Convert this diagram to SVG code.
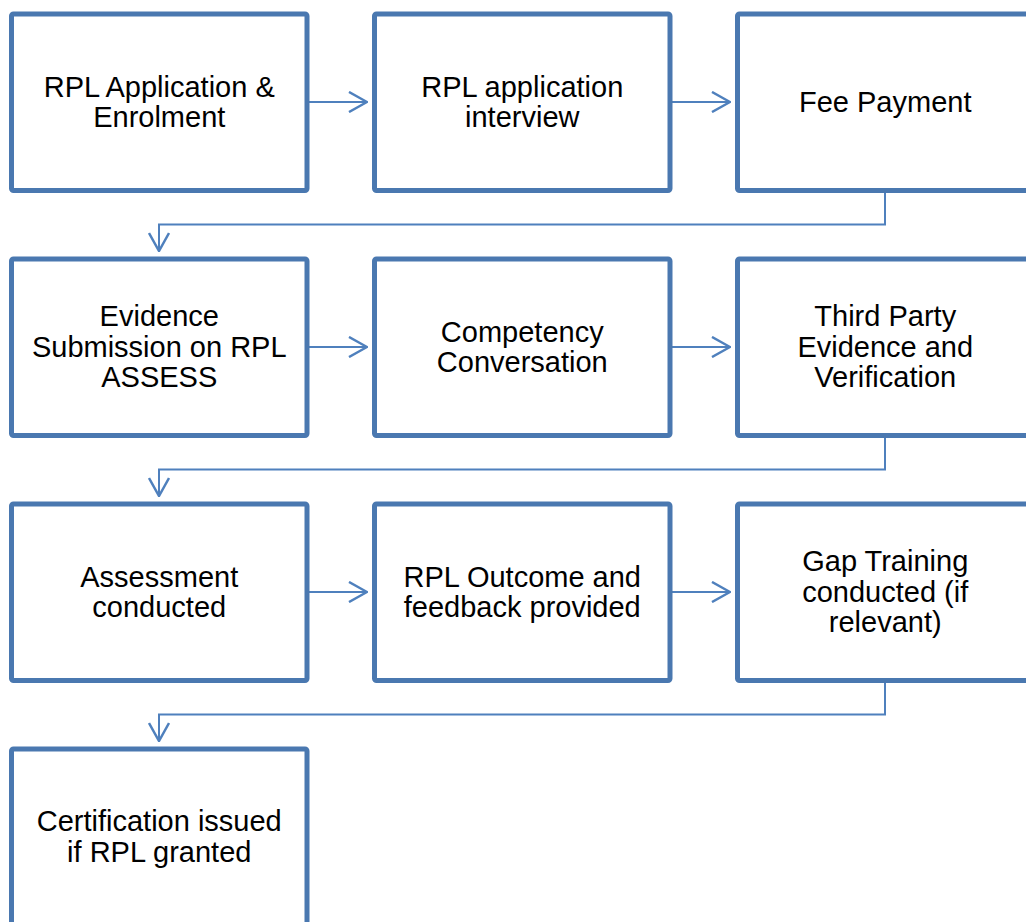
<svg xmlns="http://www.w3.org/2000/svg" width="1026" height="922" viewBox="0 0 1026 922">
<defs>
<style>
.box{fill:#ffffff;stroke:#4a78b0;stroke-width:5;}
.lbl{font-family:"Liberation Sans",Arial,sans-serif;font-size:29px;fill:#000000;text-anchor:middle;}
.con{fill:none;stroke:#4f80bd;stroke-width:2;}
</style>
<marker id="chev" viewBox="0 0 20 22" refX="19" refY="11" markerWidth="20" markerHeight="22" markerUnits="userSpaceOnUse" orient="auto">
<path d="M1,1 L19,11 L1,21" fill="none" stroke="#4f80bd" stroke-width="2.5"/>
</marker>
</defs>
<rect width="1026" height="922" fill="#ffffff"/>
<g id="connectors">
<path class="con" d="M309,102 H367" marker-end="url(#chev)"/>
<path class="con" d="M672,102 H730" marker-end="url(#chev)"/>
<path class="con" d="M885,193 V224.5 H159 V251" marker-end="url(#chev)"/>
<path class="con" d="M309,347 H367" marker-end="url(#chev)"/>
<path class="con" d="M672,347 H730" marker-end="url(#chev)"/>
<path class="con" d="M885,438 V469.5 H159 V496" marker-end="url(#chev)"/>
<path class="con" d="M309,592 H367" marker-end="url(#chev)"/>
<path class="con" d="M672,592 H730" marker-end="url(#chev)"/>
<path class="con" d="M885,683 V714.5 H159 V741" marker-end="url(#chev)"/>
</g>
<g id="n1"><rect class="box" x="11.5" y="14" width="295.5" height="176.5" rx="2"/>
<text class="lbl" x="159.25" y="97">RPL Application &amp;</text><text class="lbl" x="159.25" y="127">Enrolment</text></g>
<g id="n2"><rect class="box" x="374.5" y="14" width="295.5" height="176.5" rx="2"/>
<text class="lbl" x="522.25" y="97">RPL application</text><text class="lbl" x="522.25" y="127">interview</text></g>
<g id="n3"><rect class="box" x="737.5" y="14" width="295.5" height="176.5" rx="2"/>
<text class="lbl" x="885.25" y="112">Fee Payment</text></g>
<g id="n4"><rect class="box" x="11.5" y="259" width="295.5" height="176.5" rx="2"/>
<text class="lbl" x="159.25" y="326">Evidence</text><text class="lbl" x="159.25" y="356.5">Submission on RPL</text><text class="lbl" x="159.25" y="387">ASSESS</text></g>
<g id="n5"><rect class="box" x="374.5" y="259" width="295.5" height="176.5" rx="2"/>
<text class="lbl" x="522.25" y="342">Competency</text><text class="lbl" x="522.25" y="372">Conversation</text></g>
<g id="n6"><rect class="box" x="737.5" y="259" width="295.5" height="176.5" rx="2"/>
<text class="lbl" x="885.25" y="326">Third Party</text><text class="lbl" x="885.25" y="356.5">Evidence and</text><text class="lbl" x="885.25" y="387">Verification</text></g>
<g id="n7"><rect class="box" x="11.5" y="504" width="295.5" height="176.5" rx="2"/>
<text class="lbl" x="159.25" y="587">Assessment</text><text class="lbl" x="159.25" y="617">conducted</text></g>
<g id="n8"><rect class="box" x="374.5" y="504" width="295.5" height="176.5" rx="2"/>
<text class="lbl" x="522.25" y="587">RPL Outcome and</text><text class="lbl" x="522.25" y="617">feedback provided</text></g>
<g id="n9"><rect class="box" x="737.5" y="504" width="295.5" height="176.5" rx="2"/>
<text class="lbl" x="885.25" y="571">Gap Training</text><text class="lbl" x="885.25" y="601.5">conducted (if</text><text class="lbl" x="885.25" y="632">relevant)</text></g>
<g id="n10"><rect class="box" x="11.5" y="749" width="295.5" height="176.5" rx="2"/>
<text class="lbl" x="159.25" y="831">Certification issued</text><text class="lbl" x="159.25" y="862">if RPL granted</text></g>
</svg>
